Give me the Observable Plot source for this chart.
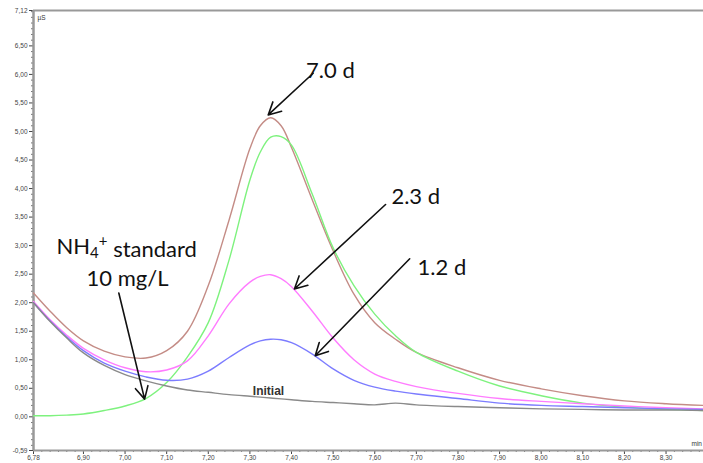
<!DOCTYPE html>
<html><head><meta charset="utf-8">
<script src="https://cdn.jsdelivr.net/npm/d3@7"></script>
<script src="https://cdn.jsdelivr.net/npm/@observablehq/plot@0.6"></script>
<style>body{margin:0;background:#fff}#chart svg{display:block}</style>
</head><body><div id="chart"></div>
<script>
// Retention time (min)
const times = [6.78, 6.82, 6.86, 6.90, 6.95, 7.00, 7.05, 7.10, 7.15, 7.20, 7.25, 7.30, 7.325, 7.35, 7.375, 7.40, 7.45, 7.50, 7.55, 7.60, 7.65, 7.70, 7.80, 7.90, 8.00, 8.10, 8.20, 8.30, 8.39];
// Conductivity (µS)
const day70   = [2.17, 1.85, 1.56, 1.33, 1.15, 1.05, 1.03, 1.16, 1.50, 2.30, 3.45, 4.70, 5.10, 5.24, 5.10, 4.72, 3.80, 2.91, 2.15, 1.65, 1.36, 1.13, 0.86, 0.64, 0.49, 0.37, 0.28, 0.23, 0.20];
const standard = [0.02, 0.02, 0.03, 0.05, 0.11, 0.19, 0.32, 0.60, 1.05, 1.65, 2.75, 4.15, 4.64, 4.90, 4.91, 4.76, 3.90, 2.96, 2.30, 1.80, 1.42, 1.13, 0.80, 0.54, 0.37, 0.24, 0.17, 0.13, 0.11];
const day23   = [2.02, 1.70, 1.43, 1.20, 1.00, 0.86, 0.79, 0.82, 0.98, 1.42, 1.98, 2.36, 2.46, 2.49, 2.42, 2.28, 1.85, 1.38, 1.00, 0.75, 0.62, 0.53, 0.41, 0.32, 0.27, 0.23, 0.19, 0.16, 0.14];
const day12   = [2.00, 1.68, 1.40, 1.16, 0.94, 0.80, 0.70, 0.64, 0.66, 0.80, 1.04, 1.26, 1.33, 1.36, 1.35, 1.30, 1.10, 0.84, 0.64, 0.52, 0.45, 0.40, 0.32, 0.24, 0.20, 0.18, 0.16, 0.14, 0.13];
const initial = [2.00, 1.67, 1.38, 1.12, 0.90, 0.74, 0.63, 0.54, 0.47, 0.43, 0.39, 0.36, 0.345, 0.33, 0.315, 0.30, 0.27, 0.25, 0.23, 0.21, 0.24, 0.21, 0.18, 0.16, 0.14, 0.13, 0.12, 0.12, 0.11];

const seriesNames = ["7.0 d", "NH4+ standard", "2.3 d", "1.2 d", "Initial"];
const seriesValues = [day70, standard, day23, day12, initial];
const seriesColors = ["#c48c86", "#7ef27e", "#ff7cff", "#7c7cff", "#8a8a8a"];

// Axis ticks
const yTicks = [7.12, 6.5, 6.0, 5.5, 5.0, 4.5, 4.0, 3.5, 3.0, 2.5, 2.0, 1.5, 1.0, 0.5, 0.0, -0.59];
const xTicks = [6.78, 6.9, 7.0, 7.1, 7.2, 7.3, 7.4, 7.5, 7.6, 7.7, 7.8, 7.9, 8.0, 8.1, 8.2, 8.3];

// Annotations (data coordinates)
const labelTexts = ["7.0 d", "2.3 d", "1.2 d"];
const labelX = [7.435, 7.640, 7.703];
const labelY = [6.06, 3.86, 2.61];
const stdLines = ["NH4+ standard", "10 mg/L"];
const stdX = [7.004, 7.006];
const stdY = [2.98, 2.42];
const arrowX1 = [7.452, 7.626, 7.684, 6.985];
const arrowY1 = [6.02, 3.72, 2.77, 2.17];
const arrowX2 = [7.344, 7.407, 7.457, 7.047];
const arrowY2 = [5.29, 2.24, 1.07, 0.31];
const initLabel = {text: "Initial", x: 7.307, y: 0.455};

const rows = seriesNames.flatMap((s, i) => times.map((t, j) => ({s, t, v: seriesValues[i][j]})));
const labels = labelTexts.map((text, i) => ({text, x: labelX[i], y: labelY[i]}));
const stds = stdLines.map((text, i) => ({text, x: stdX[i], y: stdY[i]}));
const arrows = arrowX1.map((x1, i) => ({x1, y1: arrowY1[i], x2: arrowX2[i], y2: arrowY2[i]}));

const fmt = d => d.toFixed(2).replace(".", ",");
const yMinor = d3.range(-50, 712, 10).map(d => d / 100).filter(d => !yTicks.includes(d));
const xMinor = d3.range(680, 839, 2).map(d => d / 100);

const chart = Plot.plot({
  width: 703,
  height: 463,
  marginLeft: 33,
  marginRight: 0,
  marginTop: 10,
  marginBottom: 13,
  style: {fontFamily: "Liberation Sans, sans-serif", background: "#fff"},
  x: {domain: [6.78, 8.39]},
  y: {domain: [-0.59, 7.12]},
  color: {domain: seriesNames, range: seriesColors},
  marks: [
    Plot.axisY({ticks: yTicks, tickFormat: fmt, tickSize: 4, tickPadding: 2, fontSize: 6.5, color: "#444", label: null}),
    Plot.axisY({ticks: yMinor, tickSize: 2, text: null, label: null, stroke: "#777"}),
    Plot.axisX({ticks: xTicks, tickFormat: fmt, tickSize: 4, tickPadding: 1, fontSize: 6.5, color: "#444", label: null}),
    Plot.axisX({ticks: xMinor, tickSize: 2, text: null, label: null, stroke: "#777"}),
    Plot.ruleY([7.12], {stroke: "#999", strokeWidth: 2}),
    Plot.ruleY([-0.59], {stroke: "#999", strokeWidth: 2}),
    Plot.ruleX([6.78], {stroke: "#999", strokeWidth: 2.5}),
    Plot.line(rows, {x: "t", y: "v", z: "s", stroke: "s", curve: "catmull-rom", strokeWidth: 1.4}),
    Plot.text(["µS"], {frameAnchor: "top-left", dx: 4, dy: 5, fontSize: 6.5, fill: "#333"}),
    Plot.text(["min"], {frameAnchor: "bottom-right", textAnchor: "start", dx: -12, dy: -5, fontSize: 6.5, fill: "#333"}),
    Plot.arrow(arrows, {x1: "x1", y1: "y1", x2: "x2", y2: "y2", stroke: "#111", strokeWidth: 1.6, headLength: 13, headAngle: 55}),
    Plot.text(labels, {x: "x", y: "y", text: "text", textAnchor: "start", fontSize: 22, fontFamily: "Lato, sans-serif", fill: "#111"}),
    Plot.text(stds, {x: "x", y: "y", text: "text", textAnchor: "middle", fontSize: 22, fontFamily: "Lato, sans-serif", fill: "#111"}),
    Plot.text([initLabel], {x: "x", y: "y", text: "text", textAnchor: "start", fontSize: 12, fontWeight: "bold", fill: "#333"})
  ]
});

// subscript / superscript for NH4+
chart.querySelectorAll("text").forEach(el => {
  if (el.textContent === "NH4+ standard") {
    el.textContent = "";
    const ns = "http://www.w3.org/2000/svg";
    const parts = [["NH", null, null], ["4", "0.28em", "0.68em"], ["+", "-0.78em", "0.68em"], [" standard", "0.5em", null]];
    parts.forEach(([t, dy, fs]) => {
      const ts = document.createElementNS(ns, "tspan");
      ts.textContent = t;
      if (dy) ts.setAttribute("dy", dy);
      if (fs) ts.setAttribute("font-size", fs);
      el.appendChild(ts);
    });
  }
});

document.getElementById("chart").appendChild(chart);
</script>
</body></html>
